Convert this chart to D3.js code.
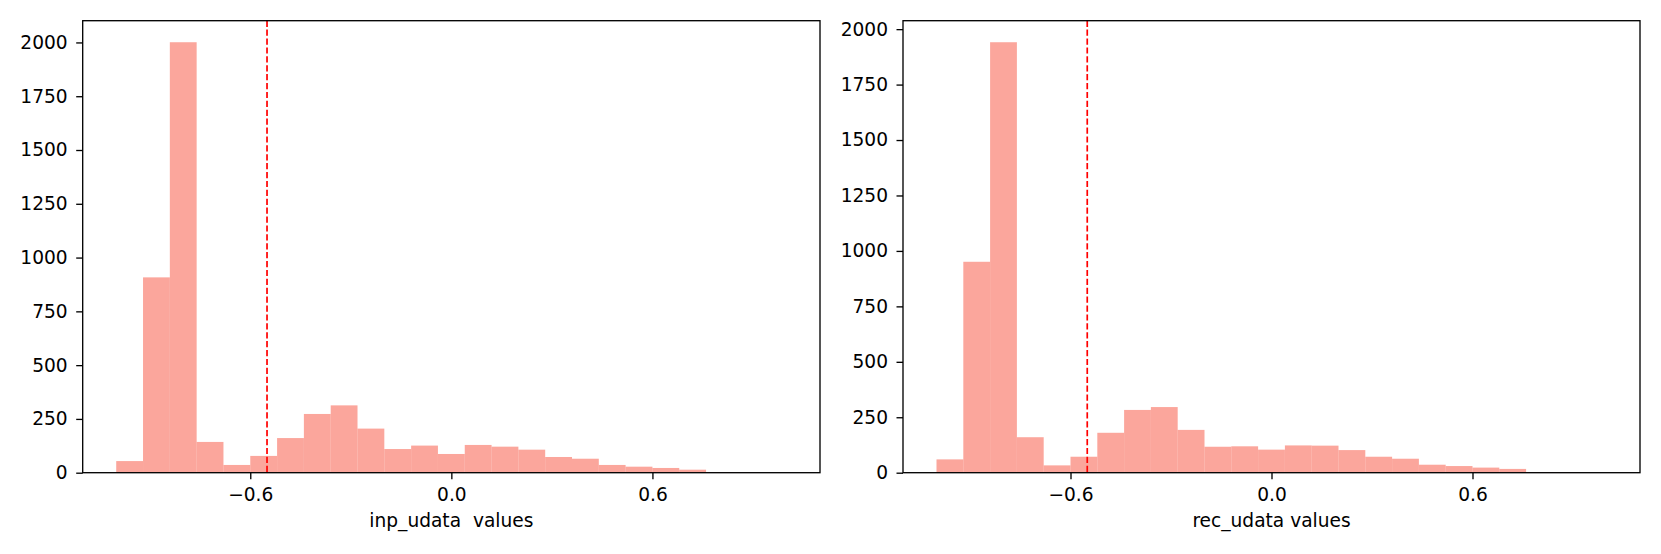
<!DOCTYPE html>
<meta charset='utf-8'>
<style>
    body {
        margin: 0;
        background: #fff;
    }
    text {
        font-family: 'DejaVu Sans', sans-serif;
        font-size: 18.6px;
        fill: #000;
    }
    .axis path, .axis line {
        stroke: #000;
        stroke-width: 1.33px;
    }
</style>
<body>
<div id='container'></div>
<script src='https://d3js.org/d3.v7.min.js'></script>
<script>
    // histogram: 25 bins of 0.08 from -1 to 1
    const binStart = -1, binWidth = 0.08;
    const inpCounts = [54, 908, 2001, 143, 36, 78, 161, 273, 313, 205, 110, 126, 87, 129, 121, 107, 73, 65, 36, 28, 22, 14, 3, 2, 1];
    const recCounts = [60, 951, 1941, 160, 33, 72, 180, 283, 296, 193, 117, 119, 104, 123, 122, 102, 72, 63, 36, 30, 23, 17, 3, 2, 1];
    const xTicks = [-0.6, 0.0, 0.6];
    const yTicks = [0, 250, 500, 750, 1000, 1250, 1500, 1750, 2000];
    const thresholds = [-0.55, -0.55];
    const xLabels = ['inp_udata  values', 'rec_udata values'];

    const W = 1661, H = 554;
    const panels = [
        { left: 82.7, right: 820, counts: inpCounts },
        { left: 903, right: 1640, counts: recCounts },
    ];
    const plotTop = 20.7, plotBottom = 472.7;

    const svg = d3.select( '#container' )
        .append( 'svg' )
        .attr( 'width', W )
        .attr( 'height', H );

    const fmt = d => d3.format( '.1f' )( d ).replace( '-', '\u2212' );

    panels.forEach( ( p, idx ) => {
        const w = p.right - p.left, h = plotBottom - plotTop;

        const x = d3.scaleLinear()
            .domain( [-1.1, 1.1] )
            .range( [0, w] );
        const y = d3.scaleLinear()
            .domain( [0, d3.max( p.counts ) * 1.05] )
            .range( [h, 0] );

        const g = svg.append( 'g' )
            .attr( 'transform', `translate( ${p.left}, ${plotTop} )` );

        const bins = p.counts.map( ( c, i ) => ( {
            x0: binStart + i * binWidth,
            x1: binStart + ( i + 1 ) * binWidth,
            count: c,
        } ) );

        g.selectAll( '.bar' )
            .data( bins )
            .enter().append( 'rect' )
                .attr( 'class', 'bar' )
                .attr( 'x', d => x( d.x0 ) )
                .attr( 'width', d => x( d.x1 ) - x( d.x0 ) )
                .attr( 'y', d => y( d.count ) )
                .attr( 'height', d => h - y( d.count ) )
                .style( 'fill', 'salmon' )
                .style( 'fill-opacity', 0.7 );

        // threshold line
        g.append( 'line' )
            .attr( 'x1', x( thresholds[idx] ) )
            .attr( 'x2', x( thresholds[idx] ) )
            .attr( 'y1', 0 )
            .attr( 'y2', h )
            .style( 'stroke', 'red' )
            .style( 'stroke-width', 1.7 )
            .style( 'stroke-dasharray', '6.2,2.7' );

        const xAxis = d3.axisBottom( x )
            .tickValues( xTicks )
            .tickFormat( fmt )
            .tickSize( 6.5 )
            .tickPadding( 8.5 );
        g.append( 'g' )
            .attr( 'class', 'x axis' )
            .attr( 'transform', `translate( 0, ${h} )` )
            .call( xAxis )
            .call( a => a.select( '.domain' ).remove() )
            .call( a => a.selectAll( 'text' ).attr( 'font-family', null ).attr( 'font-size', null ) );

        const yAxis = d3.axisLeft( y )
            .tickValues( yTicks )
            .tickFormat( d3.format( 'd' ) )
            .tickSize( 6.5 )
            .tickPadding( 8.5 );
        g.append( 'g' )
            .attr( 'class', 'y axis' )
            .call( yAxis )
            .call( a => a.select( '.domain' ).remove() )
            .call( a => a.selectAll( 'text' ).attr( 'font-family', null ).attr( 'font-size', null ) );

        // frame
        g.append( 'rect' )
            .attr( 'width', w )
            .attr( 'height', h )
            .style( 'fill', 'none' )
            .style( 'stroke', '#000' )
            .style( 'stroke-width', 1.33 );

        g.append( 'text' )
            .attr( 'x', w / 2 )
            .attr( 'y', h + 54 )
            .style( 'text-anchor', 'middle' )
            .style( 'white-space', 'pre' )
            .text( xLabels[idx] );
    } );
</script>
</body>
